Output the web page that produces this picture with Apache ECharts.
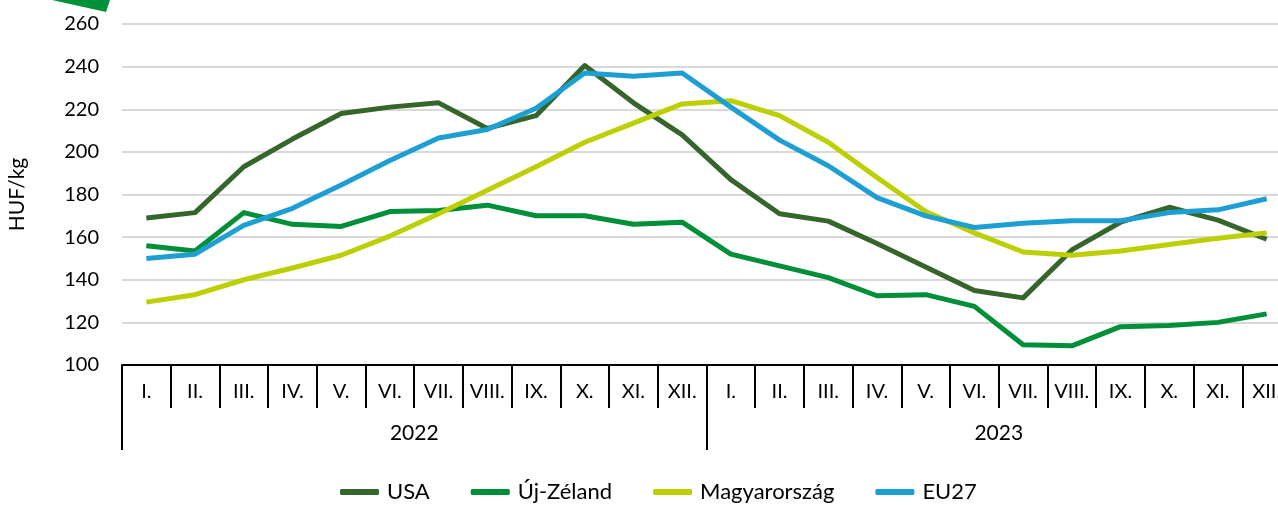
<!DOCTYPE html>
<html>
<head>
<meta charset="utf-8">
<script src="https://cdn.jsdelivr.net/npm/echarts@6/dist/echarts.min.js"></script>
<style>
  html, body { margin: 0; padding: 0; background: #fff; }
  #chart { width: 1278px; height: 505px; }
</style>
</head>
<body>
<div id="chart"></div>
<script>
// honapok (2 ev)
const months = ['I.', 'II.', 'III.', 'IV.', 'V.', 'VI.', 'VII.', 'VIII.', 'IX.', 'X.', 'XI.', 'XII.',
  'I.', 'II.', 'III.', 'IV.', 'V.', 'VI.', 'VII.', 'VIII.', 'IX.', 'X.', 'XI.', 'XII.'];
const years = ['2022', '2023'];
const yTicks = [100, 260, 20]; // min, max, step

const usa = [169, 171.5, 193, 206, 218, 221, 223, 211, 217, 240.5, 223, 208,
  187, 171, 167.5, 157, 146, 135, 131.5, 154, 167, 174, 168, 159];
const ujZeland = [156, 153.5, 171.5, 166, 165, 172, 172.5, 175, 170, 170, 166, 167,
  152, 146.5, 141, 132.5, 133, 127.5, 109.5, 109, 118, 118.5, 120, 124];
const magyarorszag = [129.5, 133, 140, 145.5, 151.5, 160.5, 171, 182, 193, 204.5, 213.5, 222.5,
  224, 217, 204.5, 188, 172, 162, 153, 151.5, 153.5, 156.5, 159.5, 162];
const eu27 = [150, 152, 165.5, 173.5, 184.5, 196, 206.5, 210.5, 220.5, 237, 235.5, 237,
  221, 205.5, 193.5, 178.5, 170, 164.5, 166.5, 167.7, 167.7, 171.5, 172.8, 178];

const FONT = 'Lato';
const chart = echarts.init(document.getElementById('chart'));

function line(name, data, color) {
  return {
    name: name,
    type: 'line',
    data: data,
    xAxisIndex: 0,
    showSymbol: false,
    symbol: 'none',
    lineStyle: { color: color, width: 5, join: 'round' },
    itemStyle: { color: color },
    animation: false
  };
}

const option = {
  textStyle: { fontFamily: FONT },
  grid: { left: 122, top: 24, width: 1169, height: 341, outerBoundsMode: 'none', containLabel: false },
  graphic: [{
    type: 'polygon',
    shape: { points: [[52, 0], [110, 0], [106, 12]] },
    style: { fill: '#00913a' }
  }],
  legend: {
    top: 481,
    left: 340,
    padding: 0,
    itemWidth: 39,
    itemHeight: 6,
    itemGap: 41,
    icon: 'roundRect',
    textStyle: { fontFamily: FONT, fontSize: 22, color: '#000', padding: [0, 0, 0, 3] },
    data: ['USA', 'Új-Zéland', 'Magyarország', 'EU27']
  },
  xAxis: [
    {
      type: 'category',
      data: months,
      boundaryGap: true,
      axisLine: { show: true, lineStyle: { color: '#000', width: 2 } },
      axisTick: { show: true, interval: 0, length: 43, lineStyle: { color: '#000', width: 2 } },
      axisLabel: { interval: 0, margin: 17, fontFamily: FONT, fontSize: 20, color: '#000' },
      splitLine: { show: false }
    },
    {
      type: 'category',
      data: years,
      position: 'bottom',
      boundaryGap: true,
      axisLine: { show: false },
      axisTick: { show: true, length: 85, lineStyle: { color: '#000', width: 2 } },
      axisLabel: { margin: 58, fontFamily: FONT, fontSize: 21, color: '#000' },
      splitLine: { show: false }
    }
  ],
  yAxis: {
    type: 'value',
    min: yTicks[0],
    max: yTicks[1],
    interval: yTicks[2],
    name: 'HUF/kg',
    nameLocation: 'middle',
    nameGap: 94,
    nameRotate: 90,
    nameTextStyle: { fontFamily: FONT, fontSize: 21, color: '#000' },
    axisLine: { show: false },
    axisTick: { show: false },
    axisLabel: { margin: 23, fontFamily: FONT, fontSize: 20, color: '#000' },
    splitLine: { lineStyle: { color: '#d9d9d9', width: 2 } }
  },
  series: [
    line('USA', usa, '#35652b'),
    line('Új-Zéland', ujZeland, '#008f39'),
    line('Magyarország', magyarorszag, '#bccf00'),
    line('EU27', eu27, '#1e9fd3')
  ]
};
chart.setOption(option);
</script>
</body>
</html>
